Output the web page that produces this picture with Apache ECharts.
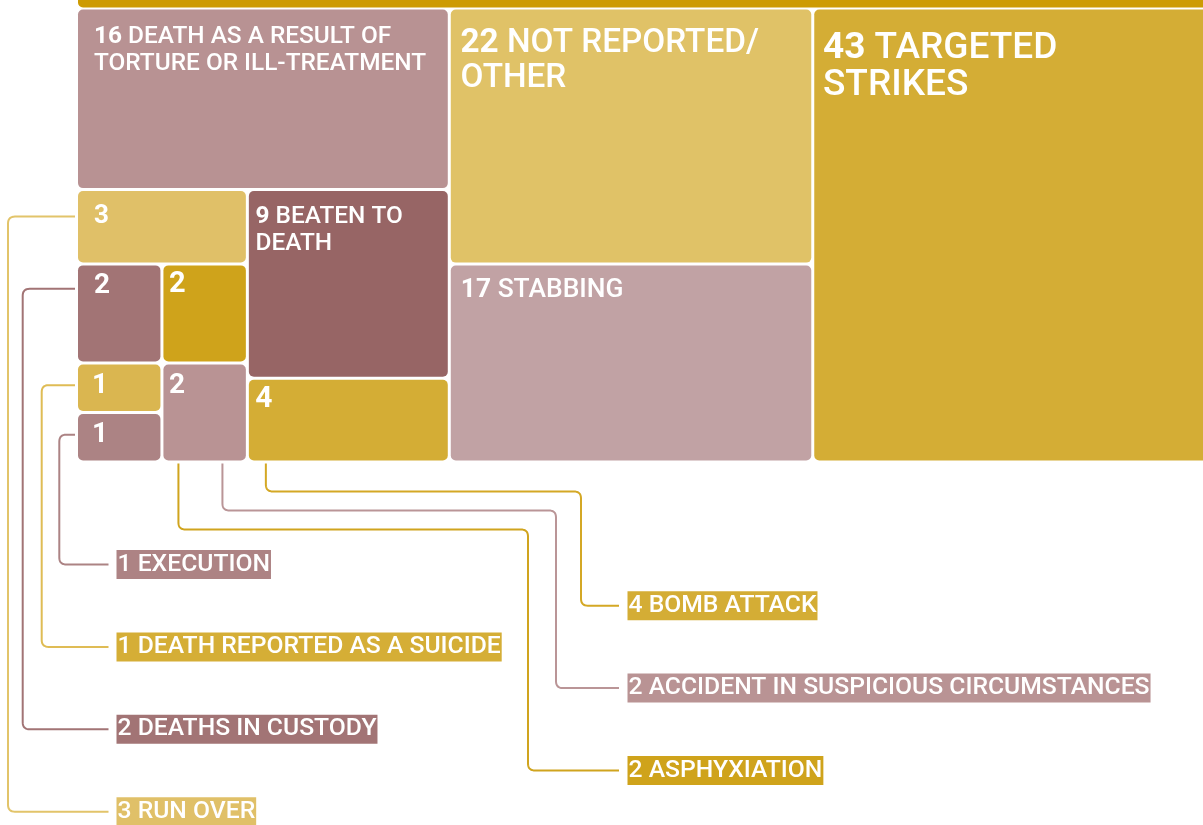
<!DOCTYPE html>
<html>
<head>
<meta charset="utf-8">
<script src="https://cdn.jsdelivr.net/npm/echarts@6/dist/echarts.min.js"></script>
<style>
html,body{margin:0;padding:0;background:#fff;}
#c{width:1203px;height:825px;}
</style>
</head>
<body>
<div id="c"></div>
<script>
// ---------------- DATA ----------------
// Categories in layout order (the hierarchy path decides the treemap arrangement)
const categories = [
  'DEATH AS A RESULT OF TORTURE OR ILL-TREATMENT',
  'RUN OVER',
  'DEATHS IN CUSTODY',
  'ASPHYXIATION',
  'DEATH REPORTED AS A SUICIDE',
  'EXECUTION',
  'ACCIDENT IN SUSPICIOUS CIRCUMSTANCES',
  'BEATEN TO DEATH',
  'BOMB ATTACK',
  'NOT REPORTED/OTHER',
  'STABBING',
  'TARGETED STRIKES'
];
const values = [16, 3, 2, 2, 1, 1, 2, 9, 4, 22, 17, 43];
// grouping path of each category inside the treemap
const groupPaths = [
  'A', 'A/A2/L', 'A/A2/L/L2', 'A/A2/L/L2', 'A/A2/L/L2/SE', 'A/A2/L/L2/SE',
  'A/A2/L/L2', 'A/A2/R', 'A/A2/R', 'B', 'B', ''
];
// text written inside the cell after the number ('' = number only)
const cellText = [
  'DEATH AS A RESULT OF\nTORTURE OR ILL-TREATMENT', '', '', '', '', '', '',
  'BEATEN TO\nDEATH', '', 'NOT REPORTED/\nOTHER', 'STABBING', 'TARGETED\nSTRIKES'
];
// external annotation order (top to bottom)
const annotOrder = [
  'EXECUTION', 'BOMB ATTACK', 'DEATH REPORTED AS A SUICIDE',
  'ACCIDENT IN SUSPICIOUS CIRCUMSTANCES', 'DEATHS IN CUSTODY', 'ASPHYXIATION', 'RUN OVER'
];

// ---------------- STYLES ----------------
const cellColors = {
  'DEATH AS A RESULT OF TORTURE OR ILL-TREATMENT': '#B89293',
  'RUN OVER': '#E0C068',
  'DEATHS IN CUSTODY': '#A27475',
  'ASPHYXIATION': '#CFA31B',
  'DEATH REPORTED AS A SUICIDE': '#DAB650',
  'EXECUTION': '#AC8384',
  'ACCIDENT IN SUSPICIOUS CIRCUMSTANCES': '#B99394',
  'BEATEN TO DEATH': '#976565',
  'BOMB ATTACK': '#D4AD35',
  'NOT REPORTED/OTHER': '#E0C267',
  'STABBING': '#C1A2A4',
  'TARGETED STRIKES': '#D4AD35'
};
// fs font size, lh line height, ct cap-top offset, pl left padding
const cellLabelStyle = {
  'DEATH AS A RESULT OF TORTURE OR ILL-TREATMENT': {fs: 24.4, lh: 27, ct: 18.7, pl: 16},
  'RUN OVER': {fs: 26, lh: 28, ct: 15.7, pl: 16},
  'DEATHS IN CUSTODY': {fs: 28, lh: 30, ct: 10, pl: 16},
  'ASPHYXIATION': {fs: 29, lh: 31, ct: 8.4, pl: 5.5},
  'DEATH REPORTED AS A SUICIDE': {fs: 28, lh: 30, ct: 10.7, pl: 14},
  'EXECUTION': {fs: 28, lh: 30, ct: 10.7, pl: 14},
  'ACCIDENT IN SUSPICIOUS CIRCUMSTANCES': {fs: 28, lh: 30, ct: 10.7, pl: 5.5},
  'BEATEN TO DEATH': {fs: 24.4, lh: 27, ct: 16.7, pl: 6.7},
  'BOMB ATTACK': {fs: 30, lh: 32, ct: 8.3, pl: 6.5},
  'NOT REPORTED/OTHER': {fs: 33.3, lh: 35, ct: 22.3, pl: 9.7},
  'STABBING': {fs: 26.4, lh: 29, ct: 15, pl: 10},
  'TARGETED STRIKES': {fs: 37, lh: 37, ct: 25.2, pl: 8.7}
};
// annotation styling: side 'left' or 'bottom'
const annotStyle = {
  'RUN OVER': {side: 'left', dy: 25.5, vx: 8, line: '#E2C46A', bg: '#E0C068'},
  'DEATHS IN CUSTODY': {side: 'left', dy: 23.4, vx: 22.7, line: '#A27475', bg: '#A27475'},
  'DEATH REPORTED AS A SUICIDE': {side: 'left', dy: 20.7, vx: 41.7, line: '#DFBC55', bg: '#D5AE36'},
  'EXECUTION': {side: 'left', dy: 20.7, vx: 59.3, line: '#AC8384', bg: '#AD8384'},
  'BOMB ATTACK': {side: 'bottom', dx: 17, ty: 491.5, vx: 581, line: '#D4A825', bg: '#D4AD35'},
  'ACCIDENT IN SUSPICIOUS CIRCUMSTANCES': {side: 'bottom', dx: 59, ty: 510.5, vx: 556, line: '#BA9597', bg: '#B99394'},
  'ASPHYXIATION': {side: 'bottom', dx: 15, ty: 529.5, vx: 528, line: '#D0A41E', bg: '#CFA31B'}
};
const TM = {left: 78, top: 9.5, width: 1134, height: 451};
const FONT = 'Roboto, "Noto Sans", sans-serif';

// ---------------- BUILD ----------------
function buildTree() {
  const root = {children: []};
  const groups = {'': root};
  categories.forEach((name, i) => {
    let parent = root, path = '';
    if (groupPaths[i]) {
      groupPaths[i].split('/').forEach(seg => {
        path = path ? path + '/' + seg : seg;
        if (!groups[path]) {
          const g = {name: 'grp:' + path, children: []};
          groups[path] = g;
          parent.children.push(g);
        }
        parent = groups[path];
      });
    }
    const s = cellLabelStyle[name];
    const pt = s.ct - s.lh / 2 + 0.37 * s.fs;
    parent.children.push({
      name: name,
      value: values[i],
      itemStyle: {color: cellColors[name]},
      label: {padding: [pt, 0, 0, s.pl]}
    });
  });
  return root.children;
}

const rich = {};
categories.forEach((name, i) => {
  const s = cellLabelStyle[name];
  rich['n' + i] = {fontSize: s.fs, lineHeight: s.lh, fontWeight: 700, fontFamily: FONT, color: '#fff'};
  rich['t' + i] = {fontSize: s.fs, lineHeight: s.lh, fontWeight: 500, fontFamily: FONT, color: '#fff'};
});

const chart = echarts.init(document.getElementById('c'));
chart.setOption({
  animation: false,
  series: [{
    type: 'treemap',
    left: TM.left, top: TM.top, width: TM.width, height: TM.height,
    roam: false, nodeClick: false, sort: false, squareRatio: 1,
    breadcrumb: {show: false},
    itemStyle: {gapWidth: 3, borderWidth: 0, borderColor: '#fff', borderRadius: 5},
    upperLabel: {show: false},
    label: {
      show: true, position: 'insideTopLeft', distance: 0, overflow: 'none',
      formatter: p => {
        const i = categories.indexOf(p.name);
        if (i < 0) return '';
        let str = '{n' + i + '|' + values[i] + '}';
        if (cellText[i]) {
          const lines = cellText[i].split('\n');
          str += '{t' + i + '| ' + lines[0] + '}';
          for (let j = 1; j < lines.length; j++) str += '\n{t' + i + '|' + lines[j] + '}';
        }
        return str;
      },
      rich: rich
    },
    data: buildTree()
  }]
});

// ---------------- ANNOTATIONS from the computed treemap layout ----------------
function roundedPoints(verts, r) {
  const pts = [verts[0]];
  for (let k = 1; k < verts.length - 1; k++) {
    const p0 = verts[k - 1], p = verts[k], p1 = verts[k + 1];
    const d0 = Math.hypot(p[0] - p0[0], p[1] - p0[1]);
    const d1 = Math.hypot(p1[0] - p[0], p1[1] - p[1]);
    const rr = Math.min(r, d0 / 2, d1 / 2);
    const a = [p[0] + (p0[0] - p[0]) / d0 * rr, p[1] + (p0[1] - p[1]) / d0 * rr];
    const b = [p[0] + (p1[0] - p[0]) / d1 * rr, p[1] + (p1[1] - p[1]) / d1 * rr];
    const N = 8;
    for (let t = 0; t <= N; t++) {
      const u = t / N;
      const x = (1 - u) * (1 - u) * a[0] + 2 * u * (1 - u) * p[0] + u * u * b[0];
      const y = (1 - u) * (1 - u) * a[1] + 2 * u * (1 - u) * p[1] + u * u * b[1];
      pts.push([x, y]);
    }
  }
  pts.push(verts[verts.length - 1]);
  return pts;
}

const seriesModel = chart.getModel().getSeriesByIndex(0);
const tree = seriesModel.getData().tree;
const info = seriesModel.layoutInfo || {x: TM.left, y: TM.top, height: TM.height};
const nodeByName = {};
tree.root.eachNode(n => { nodeByName[n.name] = n; });
function rectOf(name) {
  const node = nodeByName[name];
  let x = 0, y = 0, n = node;
  while (n) {
    const l = n.getLayout();
    if (l) { x += l.x || 0; y += l.y || 0; }
    n = n.parentNode;
  }
  const l = node.getLayout();
  return {x: x + info.x, y: y + info.y, w: l.width, h: l.height};
}
const tmBottom = info.y + info.height;

const graphics = [{
  type: 'rect', silent: true,
  shape: {x: TM.left, y: -20, width: 1140, height: 27.4, r: 5},
  style: {fill: '#CD9B03'}
}];
const SLOT0 = 564.5, SLOT_STEP = 41.2;
annotOrder.forEach((name, k) => {
  const a = annotStyle[name];
  const r = rectOf(name);
  const yL = SLOT0 + k * SLOT_STEP;
  const i = categories.indexOf(name);
  let verts, labelX;
  if (a.side === 'left') {
    const y0 = r.y + a.dy;
    verts = [[r.x - 3, y0], [a.vx, y0], [a.vx, yL], [108.5, yL]];
    labelX = 116.5;
  } else {
    const ax = r.x + a.dx;
    verts = [[ax, tmBottom + 3], [ax, a.ty], [a.vx, a.ty], [a.vx, yL], [619, yL]];
    labelX = 627.5;
  }
  graphics.push({
    type: 'polyline', silent: true,
    shape: {points: roundedPoints(verts, 7)},
    style: {stroke: a.line, lineWidth: 2, fill: null, lineJoin: 'round'}
  });
  graphics.push({
    type: 'text', silent: true,
    style: {
      x: labelX, y: yL, text: values[i] + ' ' + name,
      fill: '#fff', fontSize: 24.7, fontWeight: 500, fontFamily: FONT,
      lineHeight: 29, verticalAlign: 'middle', align: 'left',
      backgroundColor: a.bg, padding: [0, 1, 0, 1]
    }
  });
});
chart.setOption({graphic: {elements: graphics}});
</script>
</body>
</html>
